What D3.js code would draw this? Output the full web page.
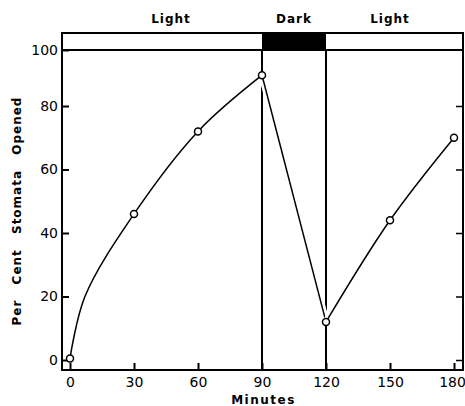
<!DOCTYPE html>
<html lang="en">
<head>
    <meta charset="UTF-8">
    <title>Stomata</title>
    <script src="https://cdn.jsdelivr.net/npm/d3@7"></script>
    <style>
        body { margin: 0; background: #fff; }
        .tick text { font-family: "DejaVu Sans", sans-serif; font-size: 14px; fill: #000; }
        .ttl { font-family: "DejaVu Sans", sans-serif; font-size: 12px; font-weight: bold; fill: #000; }
    </style>
</head>
<body>
<script type="text/javascript">
    var minutes = [0, 30, 60, 90, 120, 150, 180];
    var opened = [0.5, 46, 72, 91, 12, 44, 70];
    // an extra reading along the drawn curve near the start
    var traceMinutes = [7];
    var traceOpened = [20];
    var xTicks = [0, 30, 60, 90, 120, 150, 180];
    var yTicks = [0, 20, 40, 60, 80, 100];
    var periods = [
        ["Light", 0, 90, false],
        ["Dark", 90, 120, true],
        ["Light", 120, 180, false]
    ];

    var width = 465;
    var height = 406;
    var mLeft = 62, mRight = 463, mTop = 33, mBottom = 370;

    var svg = d3.select('body').append('svg')
            .attr('width', width)
            .attr('height', height);

    var x = d3.scaleLinear().domain([0, 180]).range([70, 454]);
    // the printed axis is a bit squeezed between 80 and 100
    var y = d3.scaleLinear().domain([0, 80, 100]).range([360, 106, 50]);

    // light / dark band
    svg.selectAll('rect.dark')
            .data(periods.filter(function (d) { return d[3]; }))
            .enter()
            .append('rect')
            .attr('x', function (d) { return x(d[1]); })
            .attr('y', mTop)
            .attr('width', function (d) { return x(d[2]) - x(d[1]); })
            .attr('height', y(100) - mTop)
            .attr('fill', '#000');

    svg.selectAll('text.period')
            .data(periods)
            .enter()
            .append('text')
            .attr('class', 'ttl')
            .attr('x', function (d, i) {
                return i == 0 ? x(d[1]) + 101 : (x(d[1]) + x(d[2])) / 2;
            })
            .attr('y', 23)
            .attr('text-anchor', 'middle')
            .attr('letter-spacing', 1)
            .text(function (d) { return d[0]; });

    // 100 line under the band
    svg.append('line')
            .attr('x1', mLeft).attr('x2', mRight)
            .attr('y1', y(100)).attr('y2', y(100))
            .attr('stroke', '#000').attr('stroke-width', 2);

    // vertical lines at light changes
    svg.selectAll('line.change')
            .data([90, 120])
            .enter()
            .append('line')
            .attr('x1', function (d) { return x(d); })
            .attr('x2', function (d) { return x(d); })
            .attr('y1', y(100))
            .attr('y2', mBottom)
            .attr('stroke', '#000')
            .attr('stroke-width', 2);

    // frame
    svg.append('rect')
            .attr('x', mLeft).attr('y', mTop)
            .attr('width', mRight - mLeft).attr('height', mBottom - mTop)
            .attr('fill', 'none').attr('stroke', '#000').attr('stroke-width', 2);

    var yAxis = d3.axisLeft(y).tickValues(yTicks).tickSize(-7).tickPadding(4);
    svg.append('g')
            .attr('transform', 'translate(' + mLeft + ',0)')
            .call(yAxis)
            .call(function (g) {
                g.select('.domain').remove();
                g.selectAll('.tick line').attr('stroke-width', 2);
            });

    var yAxisR = d3.axisRight(y).tickValues([0, 20, 40, 60, 80]).tickSize(-7).tickFormat('');
    svg.append('g')
            .attr('transform', 'translate(' + mRight + ',0)')
            .call(yAxisR)
            .call(function (g) {
                g.select('.domain').remove();
                g.selectAll('.tick line').attr('stroke-width', 1.5);
            });

    var xAxis = d3.axisBottom(x).tickValues(xTicks).tickSize(-7).tickPadding(7);
    svg.append('g')
            .attr('transform', 'translate(0,' + mBottom + ')')
            .call(xAxis)
            .call(function (g) {
                g.select('.domain').remove();
                g.selectAll('.tick line').attr('stroke-width', 2);
                g.selectAll('.tick text').attr('dx', function (d) { return d == 180 ? -2 : 0; });
            });

    // data curve: smooth in the light, straight in the dark
    var pts = minutes.map(function (m, i) { return [m, opened[i]]; });
    var trace = traceMinutes.map(function (m, i) { return [m, traceOpened[i]]; });
    var first = pts.slice(0, 4).concat(trace).sort(function (a, b) { return a[0] - b[0]; });
    var segs = [
        [first, d3.curveCatmullRom.alpha(0.5)],
        [pts.slice(3, 5), d3.curveLinear],
        [pts.slice(4, 7), d3.curveCatmullRom.alpha(0.5)]
    ];
    segs.forEach(function (s) {
        var line = d3.line()
                .x(function (d) { return x(d[0]); })
                .y(function (d) { return y(d[1]); })
                .curve(s[1]);
        svg.append('path')
                .attr('d', line(s[0]))
                .attr('fill', 'none')
                .attr('stroke', '#fff')
                .attr('stroke-width', 7);
        svg.append('path')
                .attr('d', line(s[0]))
                .attr('fill', 'none')
                .attr('stroke', '#000')
                .attr('stroke-width', 1.5);
    });

    svg.selectAll('circle')
            .data(pts)
            .enter()
            .append('circle')
            .attr('cx', function (d) { return x(d[0]); })
            .attr('cy', function (d) { return y(d[1]); })
            .attr('r', 3.5)
            .attr('fill', '#fff')
            .attr('stroke', '#000')
            .attr('stroke-width', 1.5);

    // axis titles
    svg.append('text')
            .attr('class', 'ttl')
            .attr('x', (mLeft + mRight) / 2 + 1)
            .attr('y', 404)
            .attr('text-anchor', 'middle')
            .attr('letter-spacing', 1.5)
            .text('Minutes');

    svg.append('text')
            .attr('class', 'ttl')
            .attr('transform', 'translate(21,' + 211 + ') rotate(-90)')
            .attr('text-anchor', 'middle')
            .attr('letter-spacing', 1)
            .attr('word-spacing', 10)
            .text('Per Cent Stomata Opened');
</script>
</body>
</html>
